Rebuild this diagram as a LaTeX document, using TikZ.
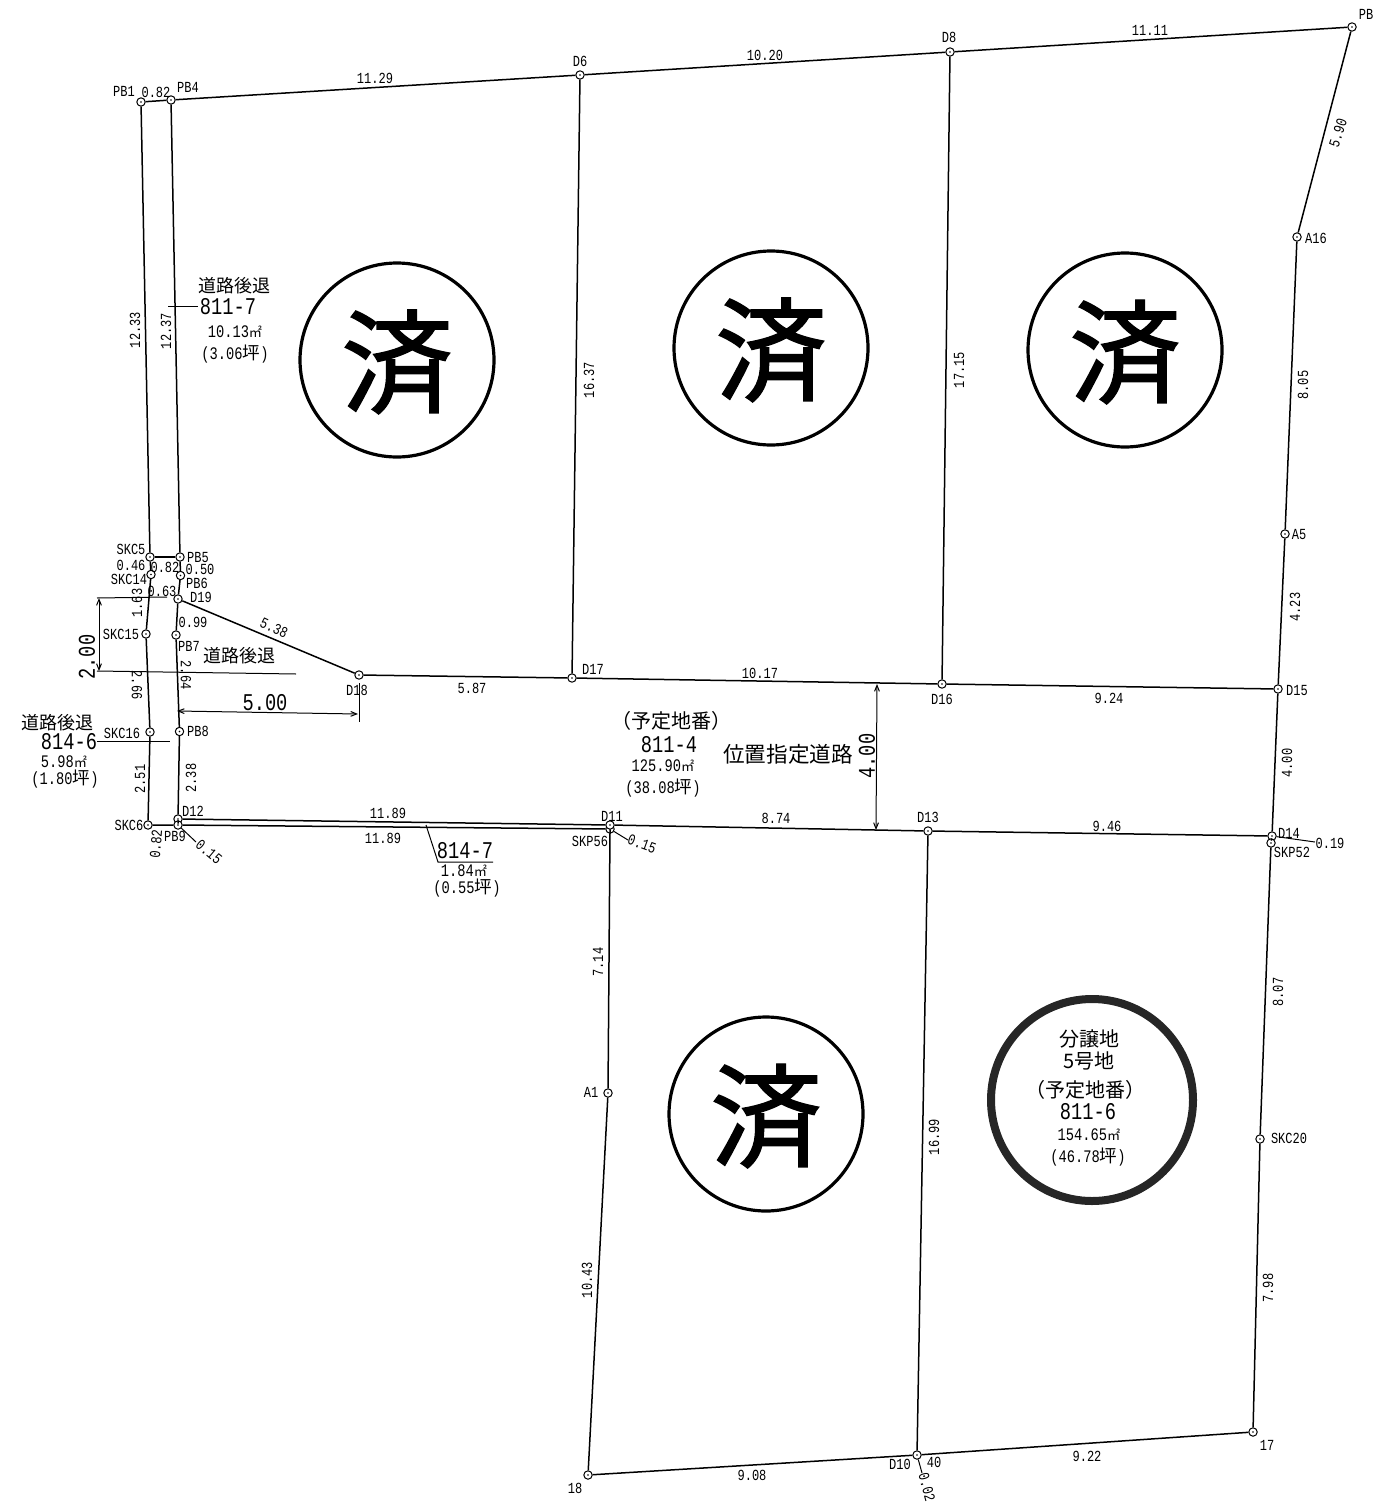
\documentclass[tikz,border=0pt]{standalone}
\usepackage{fontspec}
\usetikzlibrary{arrows.meta}
\newfontfamily\jpf{Noto Sans CJK JP}
\newfontfamily\stampf{Noto Sans CJK JP}[FakeBold=1.2]
\newfontfamily\numf{Liberation Mono}[FakeStretch=0.78]
\newcommand{\Msq}{{\jpf\fontsize{6.6}{6}\selectfont ㎡}}
\newcommand{\Tsb}{{\jpf 坪}}
\tikzset{
  x=0.5pt,y=-0.5pt,
  pt/.style={circle,draw=black,fill=white,line width=0.5pt,inner sep=0pt,minimum size=4.2pt,
    path picture={\fill[black] (path picture bounding box.center) circle (0.4pt);}},
  bnd/.style={line width=0.75pt,draw=black},
  lead/.style={line width=0.5pt,draw=black},
  dimn/.style={line width=0.5pt,draw=black,{Straight Barb[length=3pt,width=2.4pt]}-{Straight Barb[length=3pt,width=2.4pt]}},
  lb/.style={inner sep=0pt,font=\numf\fontsize{7.7}{8}\selectfont},
  md/.style={inner sep=0pt,font=\numf\fontsize{8.8}{9}\selectfont},
  lg/.style={inner sep=0pt,font=\numf\fontsize{12}{12}\selectfont},
  bg/.style={inner sep=0pt,font=\numf\fontsize{12}{14}\selectfont},
  jp/.style={inner sep=0pt,font=\jpf\fontsize{9}{9}\selectfont},
  jl/.style={inner sep=0pt,font=\jpf\fontsize{10}{10}\selectfont},
  jx/.style={inner sep=0pt,font=\jpf\fontsize{10.8}{11}\selectfont},
  stamp/.style={circle,draw=black,line width=1.6pt,fill=white,minimum size=97pt,inner sep=0pt,
    font=\stampf\fontsize{56}{56}\selectfont},
  lot/.style={circle,draw=black!85,line width=4pt,minimum size=101pt,inner sep=0pt},
}
\begin{document}
\begin{tikzpicture}
\useasboundingbox (0,0) rectangle (1373,1503);
% survey points
\node[pt] (PBa) at (141,102) {};
\node[pt] (PBd) at (171,100) {};
\node[pt] (Dsix) at (580,75) {};
\node[pt] (Deight) at (950,52) {};
\node[pt] (PBt) at (1352,27) {};
\node[pt] (Aai) at (1297,237) {};
\node[pt] (Afive) at (1285,534) {};
\node[pt] (Dft) at (1278,689) {};
\node[pt] (Dfo) at (1272,836) {};
\node[pt] (SKPb) at (1271,843) {};
\node[pt] (SKCt) at (1260,1139) {};
\node[pt] (Psv) at (1253,1432) {};
\node[pt] (Dten) at (917,1455) {};
\node[pt] (Pei) at (588,1475) {};
\node[pt] (Aone) at (608,1093) {};
\node[pt] (SKPa) at (610,829) {};
\node[pt] (Dele) at (610,825) {};
\node[pt] (Dthr) at (928,831) {};
\node[pt] (Dtw) at (178,819) {};
\node[pt] (PBn) at (178,825) {};
\node[pt] (SKCs) at (148,825) {};
\node[pt] (SKCp) at (150,732) {};
\node[pt] (PBe) at (179.5,731.5) {};
\node[pt] (SKCo) at (146,634) {};
\node[pt] (PBs) at (176,635) {};
\node[pt] (Dnin) at (178,599) {};
\node[pt] (PBx) at (180.5,575.5) {};
\node[pt] (PBf) at (180,557) {};
\node[pt] (SKCn) at (151,574.5) {};
\node[pt] (SKCf) at (150,557) {};
\node[pt] (Dei) at (359,675) {};
\node[pt] (Dsv) at (572,678) {};
\node[pt] (Dsx) at (942,684) {};
% boundaries
\draw[bnd] (PBa)--(PBd)--(Dsix)--(Deight)--(PBt)--(Aai)--(Afive)--(Dft)--(Dfo)--(SKPb)--(SKCt)--(Psv)--(Dten)--(Pei)--(Aone)--(SKPa)--(Dele);
\draw[bnd] (PBa)--(SKCf)--(SKCn)--(SKCo)--(SKCp)--(SKCs)--(PBn)--(Dtw)--(PBe)--(PBs)--(Dnin)--(PBx)--(PBf)--(PBd);
\draw[bnd] (SKCf)--(PBf);
\draw[bnd] (Dsix)--(Dsv);
\draw[bnd] (Deight)--(Dsx);
\draw[bnd] (Dnin)--(Dei)--(Dsv)--(Dsx)--(Dft);
\draw[bnd] (Dtw)--(Dele)--(Dthr)--(Dfo);
\draw[bnd] (PBn)--(SKPa);
\draw[bnd] (Dthr)--(Dten);
% stamps
\node[stamp] (sa) at (397,360) {};
\node[stamp] (sb) at (771,348) {};
\node[stamp] (sc) at (1125,350) {};
\node[stamp] (sd) at (766,1114) {};
\node[inner sep=0pt,font=\stampf\fontsize{56}{56}\selectfont] (sat) at (397,362) {済};
\node[inner sep=0pt,font=\stampf\fontsize{56}{56}\selectfont] (sbt) at (771,350) {済};
\node[inner sep=0pt,font=\stampf\fontsize{56}{56}\selectfont] (sct) at (1125,352) {済};
\node[inner sep=0pt,font=\stampf\fontsize{56}{56}\selectfont] (sdt) at (766,1116) {済};
\node[lot] (se) at (1092,1100) {};
% free leader ends
\coordinate (ca) at (168,306);
\coordinate (cb) at (198,306);
\coordinate (cc) at (97,741);
\coordinate (cd) at (170,741);
\coordinate (ce) at (426,825);
\coordinate (cf) at (438,862);
\coordinate (cg) at (493,862);
\coordinate (ch) at (196,842);
\coordinate (ci) at (628,840);
\coordinate (cj) at (1315,842);
\coordinate (ck) at (922,1473);
\coordinate (da) at (97,598);
\coordinate (db) at (167,597);
\coordinate (dc) at (97,671);
\coordinate (dd) at (296,674);
\coordinate (de) at (99,598);
\coordinate (df) at (99,671);
\coordinate (dg) at (177,711);
\coordinate (dh) at (358,714);
\coordinate (di) at (359,683);
\coordinate (dj) at (359,722);
\coordinate (dk) at (877,684);
\coordinate (dl) at (876,830);
\draw[lead] (ca)--(cb);
\draw[lead] (cc)--(cd);
\draw[lead] (ce)--(cf)--(cg);
\draw[lead] (PBn)--(ch);
\draw[lead] (SKPa)--(ci);
\draw[lead] (Dfo)--(cj);
\draw[lead] (Dten)--(ck);
\draw[lead] (da)--(db);
\draw[lead] (dc)--(dd);
\draw[lead] (di)--(dj);
\draw[dimn] (de)--(df);
\draw[dimn] (dg)--(dh);
\draw[dimn] (dk)--(dl);
% point labels
\node[lb] (ta) at (124,91) {PB1};
\node[lb] (tb) at (156,92) {0.82};
\node[lb] (tc) at (188,87) {PB4};
\node[lb] (td) at (375,78) {11.29};
\node[lb] (te) at (580,61) {D6};
\node[lb] (tf) at (765,55) {10.20};
\node[lb] (tg) at (949,37) {D8};
\node[lb] (th) at (1150,30) {11.11};
\node[lb] (ti) at (1366,14) {PB};
\node[lb] (tj) at (1316,238) {A16};
\node[lb] (tk) at (1299,534) {A5};
\node[lb,rotate=72] (tl) at (1338,133) {5.90};
\node[lb,rotate=90] (tm) at (135,330) {12.33};
\node[lb,rotate=90] (tn) at (166,331) {12.37};
\node[lb,rotate=90] (to) at (589,380) {16.37};
\node[lb,rotate=90] (tp) at (959,370) {17.15};
\node[lb,rotate=90] (tq) at (1303,385) {8.05};
\node[lb,rotate=90] (tr) at (1295,607) {4.23};
\node[lb,rotate=90] (ts) at (1287,763) {4.00};
\node[lb] (tt) at (131,549) {SKC5};
\node[lb] (tu) at (131,565) {0.46};
\node[lb] (tv) at (165,567) {0.82};
\node[lb] (tw) at (200,569) {0.50};
\node[lb] (tx) at (198,557) {PB5};
\node[lb] (ty) at (129,579) {SKC14};
\node[lb] (tz) at (197,583) {PB6};
\node[lb] (ua) at (162,591) {0.63};
\node[lb] (ub) at (201,597) {D19};
\node[lb] (uc) at (121,634) {SKC15};
\node[lb] (ud) at (193,622) {0.99};
\node[lb] (ue) at (189,646) {PB7};
\node[lb,rotate=90] (uf) at (137,603) {1.63};
\node[lb,rotate=-90] (ug) at (137,685) {2.66};
\node[lb,rotate=-90] (uh) at (186,675) {2.64};
\node[lb,rotate=-25] (ui) at (274,628) {5.38};
\node[lb] (uj) at (357,690) {D18};
\node[lb] (uk) at (122,733) {SKC16};
\node[lb] (ul) at (198,731) {PB8};
\node[lb,rotate=90] (um) at (140,779) {2.51};
\node[lb,rotate=90] (un) at (191,778) {2.38};
\node[lb] (uo) at (193,811) {D12};
\node[lb] (up) at (129,825) {SKC6};
\node[lb] (uq) at (175,836) {PB9};
\node[lb,rotate=85] (ur) at (156,844) {0.82};
\node[lb,rotate=-40] (us) at (209,852) {0.15};
\node[lb] (ut) at (472,688) {5.87};
\node[lb] (uu) at (593,669) {D17};
\node[lb] (uv) at (760,673) {10.17};
\node[lb] (uw) at (942,699) {D16};
\node[lb] (ux) at (1109,698) {9.24};
\node[lb] (uy) at (1297,690) {D15};
\node[lb] (uz) at (388,813) {11.89};
\node[lb] (va) at (383,838) {11.89};
\node[lb] (vb) at (612,816) {D11};
\node[lb] (vc) at (590,841) {SKP56};
\node[lb,rotate=-20] (vd) at (642,844) {0.15};
\node[lb] (ve) at (776,818) {8.74};
\node[lb] (vf) at (928,817) {D13};
\node[lb] (vg) at (1107,826) {9.46};
\node[lb] (vh) at (1289,833) {D14};
\node[lb] (vi) at (1292,852) {SKP52};
\node[lb] (vj) at (1330,843) {0.19};
\node[lb,rotate=90] (vk) at (598,962) {7.14};
\node[lb,rotate=90] (vl) at (587,1280) {10.43};
\node[lb,rotate=90] (vm) at (934,1137) {16.99};
\node[lb,rotate=90] (vn) at (1278,992) {8.07};
\node[lb,rotate=90] (vo) at (1268,1288) {7.98};
\node[lb] (vp) at (591,1092) {A1};
\node[lb] (vq) at (1289,1138) {SKC20};
\node[lb] (vr) at (1267,1445) {17};
\node[lb] (vs) at (575,1488) {18};
\node[lb] (vt) at (752,1475) {9.08};
\node[lb] (vu) at (1087,1456) {9.22};
\node[lb] (vv) at (900,1464) {D10};
\node[lb] (vw) at (934,1462) {40};
\node[lb,rotate=-75] (vx) at (927,1487) {0.02};
% dimensions
\node[bg,rotate=90] (wa) at (87,657) {2.00};
\node[bg] (wb) at (265,703) {5.00};
\node[bg,rotate=90] (wc) at (867,756) {4.00};
% area blocks
\node[jp] (xa) at (234,286) {道路後退};
\node[lg] (xb) at (228,307) {811-7};
\node[md] (xc) at (235,332) {10.13\Msq};
\node[md] (xd) at (235,354) {(3.06\Tsb)};
\node[jp] (xe) at (239,656) {道路後退};
\node[jp] (xf) at (57,723) {道路後退};
\node[lg] (xg) at (69,742) {814-6};
\node[md] (xh) at (64,762) {5.98\Msq};
\node[md] (xi) at (65,779) {(1.80\Tsb)};
\node[lg] (xj) at (465,851) {814-7};
\node[md] (xk) at (464,871) {1.84\Msq};
\node[md] (xl) at (467,888) {(0.55\Tsb)};
\node[jl] (xm) at (671,721) {（予定地番）};
\node[lg] (xn) at (669,745) {811-4};
\node[md] (xo) at (663,766) {125.90\Msq};
\node[md] (xp) at (663,788) {(38.08\Tsb)};
\node[jx] (xq) at (788,754) {位置指定道路};
\node[jl] (xr) at (1089,1039) {分譲地};
\node[jl] (xs) at (1089,1061) {5号地};
\node[jl] (xt) at (1085,1090) {（予定地番）};
\node[lg] (xu) at (1088,1112) {811-6};
\node[md] (xv) at (1089,1135) {154.65\Msq};
\node[md] (xw) at (1088,1157) {(46.78\Tsb)};
\end{tikzpicture}
\end{document}
